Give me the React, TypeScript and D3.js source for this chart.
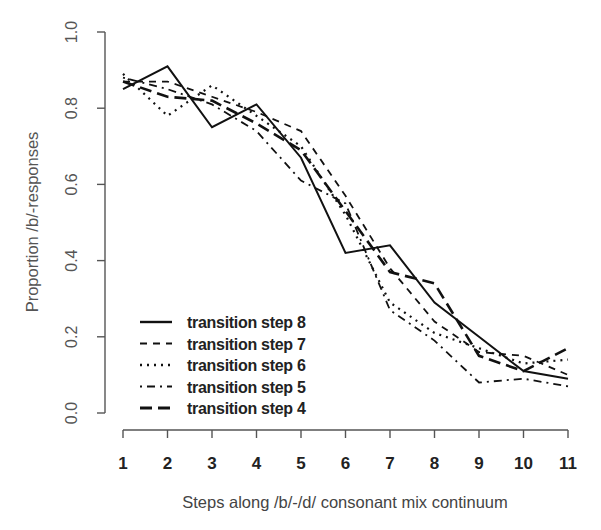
import React from "react";
import * as d3 from "d3";

const steps = [1, 2, 3, 4, 5, 6, 7, 8, 9, 10, 11];
const yTicks = [0.0, 0.2, 0.4, 0.6, 0.8, 1.0];
const step8 = [0.85, 0.91, 0.75, 0.81, 0.67, 0.42, 0.44, 0.29, 0.2, 0.11, 0.09];
const step7 = [0.87, 0.87, 0.83, 0.79, 0.74, 0.57, 0.38, 0.24, 0.16, 0.15, 0.1];
const step6 = [0.89, 0.78, 0.86, 0.78, 0.7, 0.52, 0.29, 0.21, 0.17, 0.13, 0.14];
const step5 = [0.88, 0.85, 0.81, 0.74, 0.61, 0.55, 0.27, 0.19, 0.08, 0.09, 0.07];
const step4 = [0.87, 0.83, 0.82, 0.76, 0.69, 0.53, 0.37, 0.34, 0.15, 0.11, 0.17];
const seriesNames = ["transition step 8", "transition step 7", "transition step 6", "transition step 5", "transition step 4"];

const series = [
  { name: seriesNames[0], values: step8, dash: "none", w: 2 },
  { name: seriesNames[1], values: step7, dash: "7,6", w: 1.8 },
  { name: seriesNames[2], values: step6, dash: "2,5", w: 2.2 },
  { name: seriesNames[3], values: step5, dash: "2,5,8,5", w: 1.8 },
  { name: seriesNames[4], values: step4, dash: "12,6", w: 2.6 },
];

export default function App() {
  const x = d3.scaleLinear().domain([1, 11]).range([123, 568]);
  const y = d3.scaleLinear().domain([0, 1]).range([413, 32]);
  const line = d3
    .line<number>()
    .x((_, i) => x(steps[i]))
    .y((d) => y(d));
  const font = "'Liberation Sans', Arial, sans-serif";
  return (
    <svg width={601} height={530} style={{ position: "absolute", left: 0, top: 0, background: "#fff" }}>
      {/* y axis */}
      <line x1={105} x2={105} y1={y(0)} y2={y(1)} stroke="#555" strokeWidth={1.4} />
      {yTicks.map((t) => (
        <g key={t}>
          <line x1={97} x2={105} y1={y(t)} y2={y(t)} stroke="#555" strokeWidth={1.4} />
          <text
            transform={`translate(${77},${y(t)}) rotate(-90)`}
            textAnchor="middle"
            fontFamily={font}
            fontSize={16}
            fill="#555"
          >
            {t.toFixed(1)}
          </text>
        </g>
      ))}
      <text
        transform={`translate(${38},${222}) rotate(-90)`}
        textAnchor="middle"
        fontFamily={font}
        fontSize={16.5}
        fill="#555"
      >
        Proportion /b/-responses
      </text>
      {/* x axis */}
      <line x1={x(1)} x2={x(11)} y1={430} y2={430} stroke="#555" strokeWidth={1.4} />
      {steps.map((s) => (
        <g key={s}>
          <line x1={x(s)} x2={x(s)} y1={430} y2={438} stroke="#555" strokeWidth={1.4} />
          <text x={x(s)} y={469} textAnchor="middle" fontFamily={font} fontSize={17} fontWeight="bold" fill="#222">
            {s}
          </text>
        </g>
      ))}
      <text x={345} y={508} textAnchor="middle" fontFamily={font} fontSize={16.5} fill="#444">
        Steps along /b/-/d/ consonant mix continuum
      </text>
      {/* lines */}
      {series.map((s) => (
        <path
          key={s.name}
          d={line(s.values) || ""}
          fill="none"
          stroke="#111"
          strokeWidth={s.w}
          strokeDasharray={s.dash}
        />
      ))}
      {/* legend */}
      {series.map((s, i) => {
        const ly = 322 + i * 21.5;
        return (
          <g key={s.name}>
            <line x1={140} x2={172} y1={ly} y2={ly} stroke="#111" strokeWidth={s.w + 0.4} strokeDasharray={s.dash} />
            <text x={187} y={ly + 6} fontFamily={font} fontSize={16} fill="#222" fontWeight="bold" letterSpacing={-0.3}>
              {s.name}
            </text>
          </g>
        );
      })}
    </svg>
  );
}
